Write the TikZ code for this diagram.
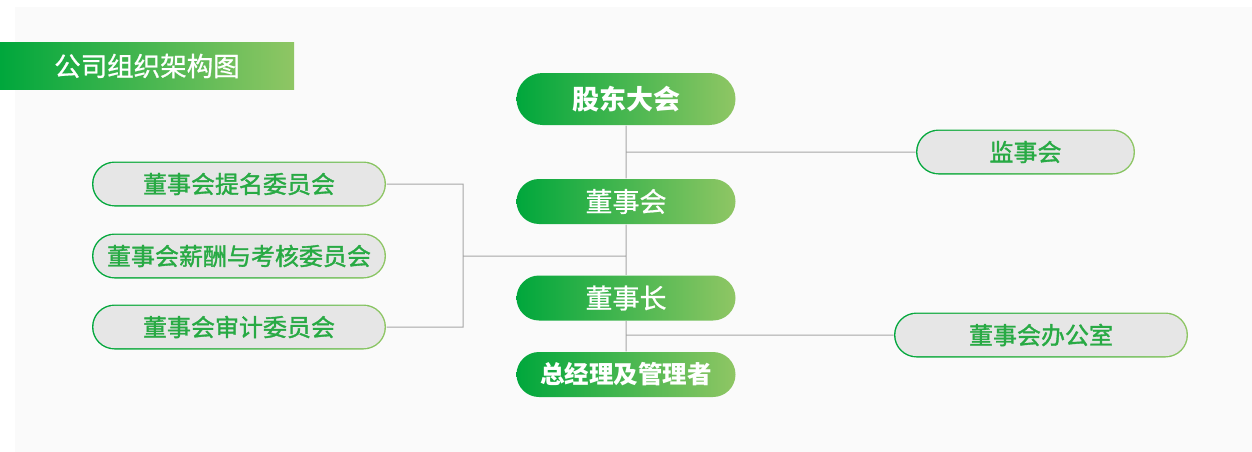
\documentclass[tikz,border=0pt]{standalone}
\usepackage{fontspec}
\newfontfamily\cjk{Noto Sans CJK SC}
\newfontfamily\cjkmed{Noto Sans CJK SC}[FakeBold=1.4]
\newfontfamily\cjksemi{Noto Sans CJK SC}[FakeBold=0.8]
\usepackage{tikz}
\usetikzlibrary{shapes.misc,positioning}
\definecolor{gLeft}{RGB}{0,167,60}
\definecolor{gRight}{RGB}{143,198,100}
\definecolor{gText}{RGB}{40,170,68}
\definecolor{boxGrey}{RGB}{230,230,230}
\definecolor{paper}{RGB}{250,250,250}
\definecolor{wire}{RGB}{166,166,166}

\begin{document}
\begin{tikzpicture}[x=1pt,y=-1pt,line width=1pt,font=\cjk]
\tikzstyle{greenbox}=[rounded rectangle,minimum width=219pt,minimum height=45pt,
  left color=gLeft,right color=gRight,text=white,inner sep=0pt,font=\cjksemi\fontsize{27}{27}\selectfont]
\tikzstyle{greybox}=[rounded rectangle,minimum width=294pt,minimum height=45pt,
  left color=gLeft,right color=gRight,text=gText,inner sep=0pt,font=\cjkmed\fontsize{24}{24}\selectfont,
  path picture={\fill[boxGrey,rounded corners=21.2pt]
    ([shift={(1.4pt,-1.4pt)}]path picture bounding box.north west) rectangle
    ([shift={(-1.4pt,1.4pt)}]path picture bounding box.south east);}]
\useasboundingbox (0,0) rectangle (1252,452);
\fill[paper] (15,7) rectangle (1252,452);
\node[rectangle,minimum width=294pt,minimum height=46pt,inner sep=0pt,left color=gLeft,right color=gRight,
  text=white,font=\cjksemi\fontsize{26.5}{27}\selectfont] (T) at (147,66) {公司组织架构图};
% centre column
\node[greenbox,minimum height=52pt,font=\cjk\bfseries\fontsize{27}{27}\selectfont] (GD) at (626,99) {股东大会};
\node[greenbox] (DSH) at (626,201.5) {董事会};
\node[greenbox] (DSZ) at (626,298) {董事长};
\node[greenbox,font=\cjk\bfseries\fontsize{24.5}{25}\selectfont] (ZJL) at (626,374.5) {总经理及管理者};
% sides
\node[greybox,minimum width=219pt] (JSH) at (1025.5,152) {监事会};
\node[greybox] (BGS) at (1041,335) {董事会办公室};
\node[greybox] (TM) at (239,184) {董事会提名委员会};
\node[greybox] (XC) at (239,256) {董事会薪酬与考核委员会};
\node[greybox] (SJ) at (239,327) {董事会审计委员会};
\coordinate (fork) at (463,256);
\path[draw=wire] (GD)--(DSH) (DSH)--(DSZ) (DSZ)--(ZJL)
  (JSH.west)--(JSH.west -| GD.south)
  (BGS.west)--(BGS.west -| GD.south)
  (TM.east)-|(fork)|-(SJ.east)
  (fork)--(fork -| DSH.south);
\end{tikzpicture}
\end{document}
